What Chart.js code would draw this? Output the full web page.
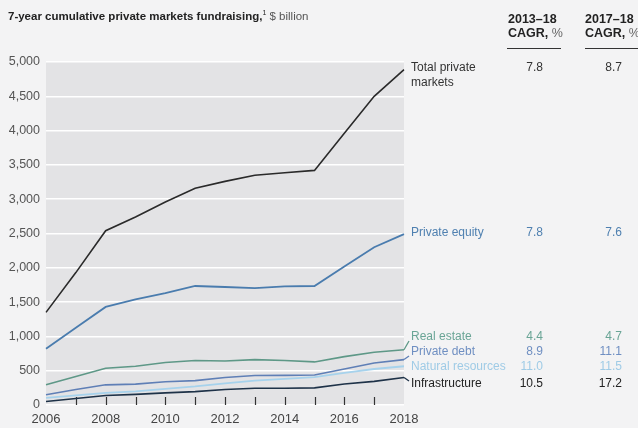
<!DOCTYPE html>
<html>
<head>
<meta charset="utf-8">
<script src="https://cdn.jsdelivr.net/npm/chart.js@4/dist/chart.umd.min.js"></script>
<style>
  html, body { margin: 0; padding: 0; background: #f3f3f4; }
  #wrap { position: relative; width: 638px; height: 428px; overflow: hidden; font-family: 'Liberation Sans', Arial, sans-serif; }
  #chart { position: absolute; left: 0; top: 0; }
  .t { position: absolute; white-space: nowrap; color: #222; }
  .title { left: 8px; top: 9px; font-size: 11.5px; font-weight: bold; }
  .title sup { font-size: 7px; font-weight: normal; }
  .title .unit { font-weight: normal; color: #555; }
  .hd { font-size: 12.5px; font-weight: bold; line-height: 14px; top: 12px; }
  .hd .pc { font-weight: normal; color: #666; }
  .rule { position: absolute; top: 48px; height: 0; border-top: 1.5px solid #333; }
</style>
</head>
<body>
<div id="wrap">
  <canvas id="chart" width="638" height="428"></canvas>
  <div class="t title">7-year cumulative private markets fundraising,<sup>1</sup><span class="unit"> $ billion</span></div>
  <div class="t hd" style="left:508px">2013–18<br>CAGR, <span class="pc">%</span></div>
  <div class="t hd" style="left:585px">2017–18<br>CAGR, <span class="pc">%</span></div>
  <div class="rule" style="left:507px;width:54px"></div>
  <div class="rule" style="left:585px;width:60px"></div>
</div>
<script>
// values, $ billion
var years = ["2006","2007","2008","2009","2010","2011","2012","2013","2014","2015","2016","2017","2018"];
var totalMarkets     = [1350, 1930, 2540, 2740, 2960, 3160, 3260, 3350, 3385, 3420, 3960, 4500, 4890];
var privateEquity    = [820, 1125, 1430, 1540, 1630, 1735, 1720, 1705, 1730, 1735, 2020, 2300, 2490];
var realEstate       = [295, 415, 535, 565, 620, 648, 642, 662, 648, 628, 705, 770, 805];
var privateDebt      = [150, 225, 294, 305, 338, 355, 400, 429, 432, 438, 525, 612, 662];
var naturalResources = [105, 140, 177, 200, 236, 270, 315, 355, 380, 405, 468, 525, 565];
var infrastructure   = [52, 95, 138, 155, 177, 195, 226, 245, 245, 250, 305, 345, 400];

var seriesNames = [["Total private", "markets"], ["Private equity"], ["Real estate"], ["Private debt"], ["Natural resources"], ["Infrastructure"]];
var cagr1318 = ["7.8", "7.8", "4.4", "8.9", "11.0", "10.5"];
var cagr1718 = ["8.7", "7.6", "4.7", "11.1", "11.5", "17.2"];

// styling
var lineColors  = ["#2a2a2a", "#4a7cae", "#5e9887", "#5f7fb6", "#a6d2ec", "#1e3248"];
var labelColors = ["#333333", "#4f80b0", "#6aa596", "#6f8fc2", "#9fcbe6", "#222222"];
var labelY = [68, 233, 337, 352, 367, 384];   // label centre, px

Chart.defaults.font.family = "'Liberation Sans', Arial, sans-serif";

var plotBg = {
  id: "plotBg",
  beforeDraw: function (chart) {
    var a = chart.chartArea, ctx = chart.ctx;
    ctx.save();
    ctx.fillStyle = "#e3e3e5";
    ctx.fillRect(a.left, a.top, a.right - a.left, a.bottom - a.top);
    ctx.restore();
  }
};

var yearTicks = {
  id: "yearTicks",
  beforeDatasetsDraw: function (chart) {
    var x = chart.scales.x, a = chart.chartArea, ctx = chart.ctx;
    ctx.save();
    ctx.strokeStyle = "#333";
    ctx.lineWidth = 1.2;
    for (var i = 1; i < years.length - 1; i++) {
      var px = Math.round(x.getPixelForValue(i)) + 0.5;
      ctx.beginPath();
      ctx.moveTo(px, a.bottom);
      ctx.lineTo(px, a.bottom - 8);
      ctx.stroke();
    }
    ctx.restore();
  }
};

var endLabels = {
  id: "endLabels",
  afterDraw: function (chart) {
    var ctx = chart.ctx;
    ctx.save();
    ctx.font = "12px 'Liberation Sans', Arial, sans-serif";
    ctx.textBaseline = "middle";
    chart.data.datasets.forEach(function (ds, i) {
      var meta = chart.getDatasetMeta(i);
      var last = meta.data[meta.data.length - 1];
      var ly = labelY[i];
      if (Math.abs(last.y - ly) > 2 && i > 0) {
        ctx.strokeStyle = lineColors[i];
        ctx.lineWidth = 1.3;
        ctx.beginPath();
        ctx.moveTo(last.x, last.y);
        ctx.lineTo(last.x + 5, ly + (last.y > ly ? 4 : -3));
        ctx.stroke();
      }
      ctx.fillStyle = labelColors[i];
      ctx.textAlign = "left";
      seriesNames[i].forEach(function (s, k) {
        ctx.fillText(s, 411, ly + k * 15);
      });
      ctx.textAlign = "right";
      ctx.fillText(cagr1318[i], 543, ly);
      ctx.fillText(cagr1718[i], 622, ly);
    });
    ctx.restore();
  }
};

function series(data, i, w) {
  return { data: data, borderColor: lineColors[i], borderWidth: w, pointRadius: 0, tension: 0, fill: false };
}

new Chart(document.getElementById("chart"), {
  type: "line",
  data: {
    labels: years,
    datasets: [
      series(totalMarkets, 0, 1.6),
      series(privateEquity, 1, 1.8),
      series(realEstate, 2, 1.6),
      series(privateDebt, 3, 1.6),
      series(naturalResources, 4, 1.8),
      series(infrastructure, 5, 1.6)
    ]
  },
  options: {
    responsive: false,
    animation: false,
    devicePixelRatio: 1,
    layout: { padding: { left: 6, right: 234, top: 62, bottom: 0 } },
    plugins: { legend: { display: false }, tooltip: { enabled: false } },
    scales: {
      x: {
        offset: false,
        grid: { display: false, drawTicks: false },
        border: { display: false },
        afterFit: function (s) { s.height = 23; },
        ticks: {
          color: "#444", font: { size: 13 }, padding: 7, autoSkip: false, maxRotation: 0,
          callback: function (v, i) { return i % 2 === 0 ? years[i] : ""; }
        }
      },
      y: {
        min: 0, max: 5000,
        grid: { color: "#ffffff", lineWidth: 1.5, drawTicks: false },
        border: { display: false },
        afterFit: function (s) { s.width = 40; },
        ticks: {
          stepSize: 500, color: "#555", font: { size: 12.5 }, padding: 6,
          callback: function (v) { return v.toLocaleString("en-US"); }
        }
      }
    }
  },
  plugins: [plotBg, yearTicks, endLabels]
});
</script>
</body>
</html>
